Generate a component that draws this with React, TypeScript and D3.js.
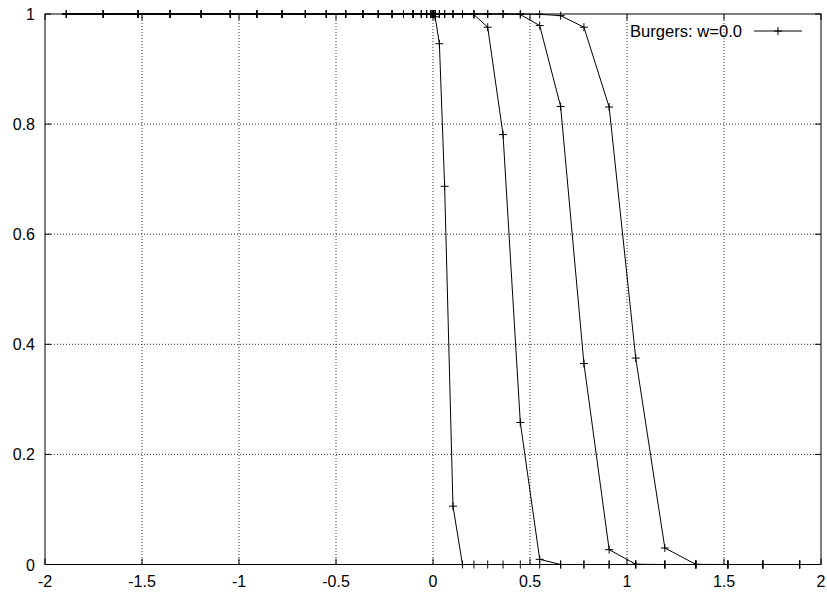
import React from "react";
import * as d3 from "d3";

// Mesh points (x) shared by every snapshot
const gridX = [
  -1.89, -1.7, -1.52, -1.355, -1.195, -1.045, -0.908, -0.778, -0.658, -0.55,
  -0.45, -0.361, -0.282, -0.211, -0.152, -0.103, -0.06, -0.033, -0.011, -0.001,
  0.001, 0.011, 0.033, 0.06, 0.103, 0.152, 0.211, 0.282, 0.361, 0.45,
  0.55, 0.658, 0.778, 0.908, 1.045, 1.195, 1.355, 1.52, 1.7, 1.89,
];

// Solution values at each mesh point, four snapshots
const snap1 = [
  1, 1, 1, 1, 1, 1, 1, 1, 1, 1,
  1, 1, 1, 1, 1, 1, 1, 1, 1, 1,
  1, 0.995, 0.946, 0.687, 0.106, 0, 0, 0, 0, 0,
  0, 0, 0, 0, 0, 0, 0, 0, 0, 0,
];
const snap2 = [
  1, 1, 1, 1, 1, 1, 1, 1, 1, 1,
  1, 1, 1, 1, 1, 1, 1, 1, 1, 1,
  1, 1, 1, 1, 1, 1, 0.999, 0.976, 0.781, 0.258,
  0.0094, 0, 0, 0, 0, 0, 0, 0, 0, 0,
];
const snap3 = [
  1, 1, 1, 1, 1, 1, 1, 1, 1, 1,
  1, 1, 1, 1, 1, 1, 1, 1, 1, 1,
  1, 1, 1, 1, 1, 1, 1, 1, 1, 0.999,
  0.979, 0.832, 0.365, 0.027, 0.0005, 0, 0, 0, 0, 0,
];
const snap4 = [
  1, 1, 1, 1, 1, 1, 1, 1, 1, 1,
  1, 1, 1, 1, 1, 1, 1, 1, 1, 1,
  1, 1, 1, 1, 1, 1, 1, 1, 1, 1,
  0.9995, 0.997, 0.976, 0.831, 0.375, 0.03, 0.0003, 0, 0, 0,
];
const snapshots = [snap1, snap2, snap3, snap4];

const xTicks = [-2, -1.5, -1, -0.5, 0, 0.5, 1, 1.5, 2];
const yTicks = [0, 0.2, 0.4, 0.6, 0.8, 1];
const legendLabel = "Burgers: w=0.0";

const W = 827;
const H = 593;
const L = 45, R = 821, T = 14, B = 564.5;
const FONT = "'Liberation Sans', Arial, Helvetica, sans-serif";

export default function App() {
  const x = d3.scaleLinear().domain([-2, 2]).range([L, R]);
  const y = d3.scaleLinear().domain([0, 1]).range([B, T]);
  const line = d3
    .line<number>()
    .x((_, i) => x(gridX[i]))
    .y((d) => y(d));
  const tick = 6;
  const m = 4;
  const plus = (cx: number, cy: number, k: string) => (
    <path
      key={k}
      d={`M${cx - m},${cy}H${cx + m}M${cx},${cy - m}V${cy + m}`}
      stroke="#000"
      strokeWidth={1}
      fill="none"
    />
  );

  return (
    <svg
      width={W}
      height={H}
      style={{ position: "absolute", left: 0, top: 0, background: "#fff" }}
      fontFamily={FONT}
    >
      <rect x={0} y={0} width={W} height={H} fill="#fff" />
      {/* grid */}
      <g stroke="#333" strokeWidth={1} strokeDasharray="1,2" fill="none">
        {xTicks
          .filter((t) => t > -2 && t < 2)
          .map((t) => (
            <line key={"gx" + t} x1={x(t)} x2={x(t)} y1={T} y2={B} />
          ))}
        {yTicks
          .filter((t) => t > 0 && t < 1)
          .map((t) => (
            <line key={"gy" + t} x1={L} x2={R} y1={y(t)} y2={y(t)} />
          ))}
      </g>
      {/* border */}
      <rect x={L} y={T} width={R - L} height={B - T} fill="none" stroke="#000" strokeWidth={1} />
      {/* ticks */}
      <g stroke="#000" strokeWidth={1}>
        {xTicks.map((t) => (
          <g key={"tx" + t}>
            <line x1={x(t)} x2={x(t)} y1={B} y2={B - tick} />
            <line x1={x(t)} x2={x(t)} y1={T} y2={T + tick} />
          </g>
        ))}
        {yTicks.map((t) => (
          <g key={"ty" + t}>
            <line x1={L} x2={L + tick} y1={y(t)} y2={y(t)} />
            <line x1={R} x2={R - tick} y1={y(t)} y2={y(t)} />
          </g>
        ))}
      </g>
      {/* tick labels */}
      <g fontSize={16} fill="#000">
        {xTicks.map((t) => (
          <text key={"lx" + t} x={x(t)} y={587} textAnchor="middle">
            {String(t)}
          </text>
        ))}
        {yTicks.map((t) => (
          <text key={"ly" + t} x={35} y={y(t) + 6} textAnchor="end">
            {String(t)}
          </text>
        ))}
      </g>
      {/* curves */}
      {snapshots.map((s, si) => (
        <g key={"s" + si}>
          <path d={line(s) || ""} fill="none" stroke="#000" strokeWidth={1} />
          {s.map((v, i) => plus(x(gridX[i]), y(v), `p${si}-${i}`))}
        </g>
      ))}
      {/* legend */}
      <text x={742} y={36.5} fontSize={16.6} textAnchor="end" fill="#000">
        {legendLabel}
      </text>
      <line x1={754} x2={802} y1={31} y2={31} stroke="#000" strokeWidth={1} />
      {plus(778, 31, "legend")}
    </svg>
  );
}
